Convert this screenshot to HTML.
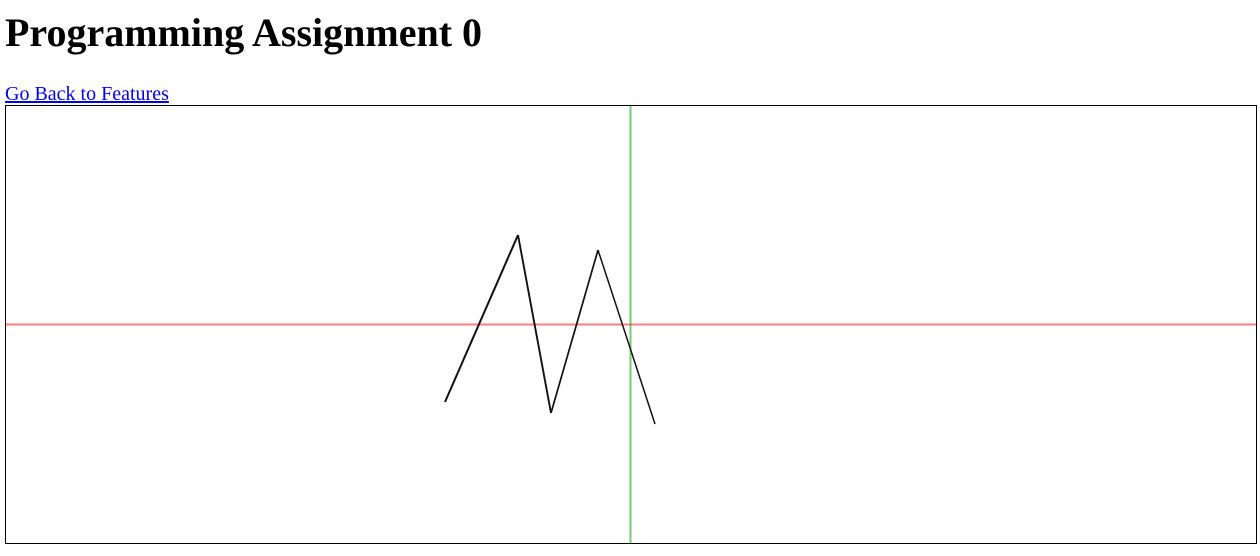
<!DOCTYPE html>
<html><head><meta charset="utf-8"><style>
body{margin:0;width:1260px;height:556px;background:#fff;position:relative;overflow:hidden;font-family:"Liberation Serif",serif}
h1{position:absolute;left:5px;top:10px;margin:0;font-size:40px;line-height:46px;font-weight:bold}
a{position:absolute;left:5px;top:82px;font-size:20px;line-height:24px;color:#00e;text-decoration:underline}
svg{position:absolute;left:5px;top:105px}
</style></head><body>
<h1>Programming Assignment 0</h1>
<a href="#">Go Back to Features</a>
<svg width="1252" height="439" viewBox="0 0 1252 439">
<rect x="0.5" y="0.5" width="1251" height="438" fill="#fff" stroke="#000"/>
<g id="g"></g>
</svg>
<script>
// points relative to origin (x right, y up) in canvas pixels
const xs=[-185.5,-112.5,-79.5,-32.5,24.5];
const ys=[-77.5,89.5,-88.5,74.5,-99.5];
const widths=[2,1.9,1.7,1.5];
const ox=625.5, oy=219.5;
const sx=v=>ox+v, sy=v=>oy-v;
const g=document.getElementById('g');
const ns='http://www.w3.org/2000/svg';
function line(x1,y1,x2,y2,c,w){const l=document.createElementNS(ns,'line');l.setAttribute('x1',x1);l.setAttribute('y1',y1);l.setAttribute('x2',x2);l.setAttribute('y2',y2);l.setAttribute('stroke',c);l.setAttribute('stroke-width',w);g.appendChild(l);return l;}
const xa=line(1,sy(0),1251,sy(0),'rgba(255,0,0,0.5)',2);


const ya=line(sx(0),1,sx(0),438,'rgba(0,160,0,0.55)',2);


for(let i=0;i<xs.length-1;i++){
  const s=line(sx(xs[i]),sy(ys[i]),sx(xs[i+1]),sy(ys[i+1]),'#111',widths[i]);
  
  
}
</script>
</body></html>
